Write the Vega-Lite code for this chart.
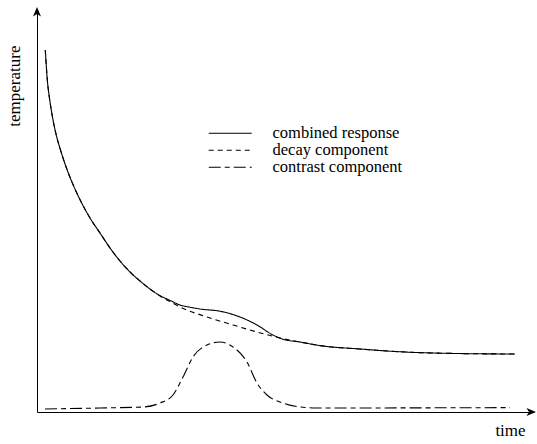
{
  "$schema": "https://vega.github.io/schema/vega-lite/v6.json",
  "width": 494,
  "height": 400,
  "autosize": {"type": "none"},
  "padding": {"left": 37, "top": 12, "right": 6, "bottom": 32},
  "background": "white",
  "config": {
    "view": {"stroke": null},
    "font": "Liberation Serif",
    "axis": {
      "domainColor": "black",
      "domainWidth": 1,
      "ticks": false,
      "labels": false,
      "grid": false,
      "titleFont": "Liberation Serif",
      "titleFontSize": 17,
      "titleFontWeight": "normal",
      "titleColor": "black"
    }
  },
  "datasets": {
    "curves": [
      {"t": 1.68, "temp": 90.5, "series": "decay component"},
      {"t": 2.09, "temp": 83, "series": "decay component"},
      {"t": 2.49, "temp": 78.75, "series": "decay component"},
      {"t": 2.89, "temp": 75.5, "series": "decay component"},
      {"t": 3.44, "temp": 71.75, "series": "decay component"},
      {"t": 4.05, "temp": 68.5, "series": "decay component"},
      {"t": 4.76, "temp": 65.5, "series": "decay component"},
      {"t": 5.47, "temp": 62.75, "series": "decay component"},
      {"t": 6.34, "temp": 59.75, "series": "decay component"},
      {"t": 7.69, "temp": 55.75, "series": "decay component"},
      {"t": 9.05, "temp": 52.25, "series": "decay component"},
      {"t": 10.73, "temp": 48.5, "series": "decay component"},
      {"t": 12.75, "temp": 44.75, "series": "decay component"},
      {"t": 14.78, "temp": 41, "series": "decay component"},
      {"t": 16.8, "temp": 37.75, "series": "decay component"},
      {"t": 18.83, "temp": 35, "series": "decay component"},
      {"t": 20.85, "temp": 32.75, "series": "decay component"},
      {"t": 22.87, "temp": 30.75, "series": "decay component"},
      {"t": 24.9, "temp": 29, "series": "decay component"},
      {"t": 26.92, "temp": 27.6, "series": "decay component"},
      {"t": 28.95, "temp": 26.25, "series": "decay component"},
      {"t": 34.41, "temp": 23.75, "series": "decay component"},
      {"t": 39.68, "temp": 21.75, "series": "decay component"},
      {"t": 44.53, "temp": 20, "series": "decay component"},
      {"t": 49.19, "temp": 18.5, "series": "decay component"},
      {"t": 53.24, "temp": 17.5, "series": "decay component"},
      {"t": 57.29, "temp": 16.6, "series": "decay component"},
      {"t": 65.38, "temp": 15.75, "series": "decay component"},
      {"t": 72.87, "temp": 15.1, "series": "decay component"},
      {"t": 86.23, "temp": 14.6, "series": "decay component"},
      {"t": 96.76, "temp": 14.5, "series": "decay component"},

      {"t": 1.68, "temp": 90.5, "series": "combined response"},
      {"t": 2.09, "temp": 83, "series": "combined response"},
      {"t": 2.49, "temp": 78.75, "series": "combined response"},
      {"t": 2.89, "temp": 75.5, "series": "combined response"},
      {"t": 3.44, "temp": 71.75, "series": "combined response"},
      {"t": 4.05, "temp": 68.5, "series": "combined response"},
      {"t": 4.76, "temp": 65.5, "series": "combined response"},
      {"t": 5.47, "temp": 62.75, "series": "combined response"},
      {"t": 6.34, "temp": 59.75, "series": "combined response"},
      {"t": 7.69, "temp": 55.75, "series": "combined response"},
      {"t": 9.05, "temp": 52.25, "series": "combined response"},
      {"t": 10.73, "temp": 48.5, "series": "combined response"},
      {"t": 12.75, "temp": 44.75, "series": "combined response"},
      {"t": 14.78, "temp": 41, "series": "combined response"},
      {"t": 16.8, "temp": 37.75, "series": "combined response"},
      {"t": 18.83, "temp": 35, "series": "combined response"},
      {"t": 20.85, "temp": 32.75, "series": "combined response"},
      {"t": 22.87, "temp": 30.75, "series": "combined response"},
      {"t": 24.9, "temp": 29.1, "series": "combined response"},
      {"t": 26.92, "temp": 27.9, "series": "combined response"},
      {"t": 28.95, "temp": 26.75, "series": "combined response"},
      {"t": 30.97, "temp": 26.2, "series": "combined response"},
      {"t": 33.0, "temp": 25.75, "series": "combined response"},
      {"t": 37.04, "temp": 25.2, "series": "combined response"},
      {"t": 41.09, "temp": 23.75, "series": "combined response"},
      {"t": 44.53, "temp": 21.75, "series": "combined response"},
      {"t": 47.77, "temp": 19.25, "series": "combined response"},
      {"t": 49.8, "temp": 18.2, "series": "combined response"},
      {"t": 53.24, "temp": 17.5, "series": "combined response"},
      {"t": 57.29, "temp": 16.6, "series": "combined response"},
      {"t": 65.38, "temp": 15.75, "series": "combined response"},
      {"t": 72.87, "temp": 15.1, "series": "combined response"},
      {"t": 86.23, "temp": 14.6, "series": "combined response"},
      {"t": 96.76, "temp": 14.5, "series": "combined response"},

      {"t": 1.62, "temp": 0.75, "series": "contrast component"},
      {"t": 12.75, "temp": 1, "series": "contrast component"},
      {"t": 21.46, "temp": 1.25, "series": "contrast component"},
      {"t": 24.9, "temp": 2.25, "series": "contrast component"},
      {"t": 27.53, "temp": 4.25, "series": "contrast component"},
      {"t": 29.55, "temp": 8.75, "series": "contrast component"},
      {"t": 31.58, "temp": 13.75, "series": "contrast component"},
      {"t": 34.41, "temp": 16.75, "series": "contrast component"},
      {"t": 37.04, "temp": 17.5, "series": "contrast component"},
      {"t": 39.68, "temp": 16.25, "series": "contrast component"},
      {"t": 42.51, "temp": 12.5, "series": "contrast component"},
      {"t": 44.53, "temp": 7.25, "series": "contrast component"},
      {"t": 46.56, "temp": 4.25, "series": "contrast component"},
      {"t": 49.8, "temp": 2.25, "series": "contrast component"},
      {"t": 53.24, "temp": 1.25, "series": "contrast component"},
      {"t": 56.68, "temp": 1, "series": "contrast component"},
      {"t": 95.75, "temp": 1.1, "series": "contrast component"}
    ],
    "yTip": [{"t": 0, "temp": 100}],
    "xTip": [{"t": 100, "temp": 0}]
  },
  "layer": [
    {
      "data": {"name": "curves"},
      "mark": {"type": "line", "interpolate": "monotone", "color": "black", "strokeWidth": 1.1},
      "encoding": {
        "x": {
          "field": "t",
          "type": "quantitative",
          "scale": {"domain": [0, 100], "nice": false, "zero": false},
          "axis": {"title": "time", "titleX": 473, "titleY": 23, "titleAlign": "center", "titleBaseline": "alphabetic"}
        },
        "y": {
          "field": "temp",
          "type": "quantitative",
          "scale": {"domain": [0, 100], "nice": false, "zero": false},
          "axis": {"title": "temperature", "titleX": -18, "titleY": 33, "titleAngle": 270, "titleAlign": "right", "titleBaseline": "alphabetic"}
        },
        "strokeDash": {
          "field": "series",
          "type": "nominal",
          "scale": {
            "domain": ["combined response", "decay component", "contrast component"],
            "range": [[1, 0], [5, 4], [12, 4, 5, 4]]
          },
          "legend": {
            "title": null,
            "orient": "none",
            "legendX": 185,
            "legendY": 113,
            "padding": 0,
            "rowPadding": 0,
            "symbolType": "M-10,0H10",
            "symbolSize": 18.5,
            "symbolStrokeWidth": 1.1,
            "symbolStrokeColor": "black",
            "labelFont": "Liberation Serif",
            "labelFontSize": 16.5,
            "labelColor": "black",
            "labelOffset": 34
          }
        }
      }
    },
    {
      "data": {"name": "yTip"},
      "mark": {"type": "point", "shape": "M0,-1L0.8,0.9L0,0.4L-0.8,0.9Z", "filled": true, "color": "black", "size": 100, "opacity": 1},
      "encoding": {
        "x": {"field": "t", "type": "quantitative"},
        "y": {"field": "temp", "type": "quantitative"}
      }
    },
    {
      "data": {"name": "xTip"},
      "mark": {"type": "point", "shape": "M0,-1L0.8,0.9L0,0.4L-0.8,0.9Z", "angle": 90, "filled": true, "color": "black", "size": 100, "opacity": 1},
      "encoding": {
        "x": {"field": "t", "type": "quantitative"},
        "y": {"field": "temp", "type": "quantitative"}
      }
    }
  ]
}
